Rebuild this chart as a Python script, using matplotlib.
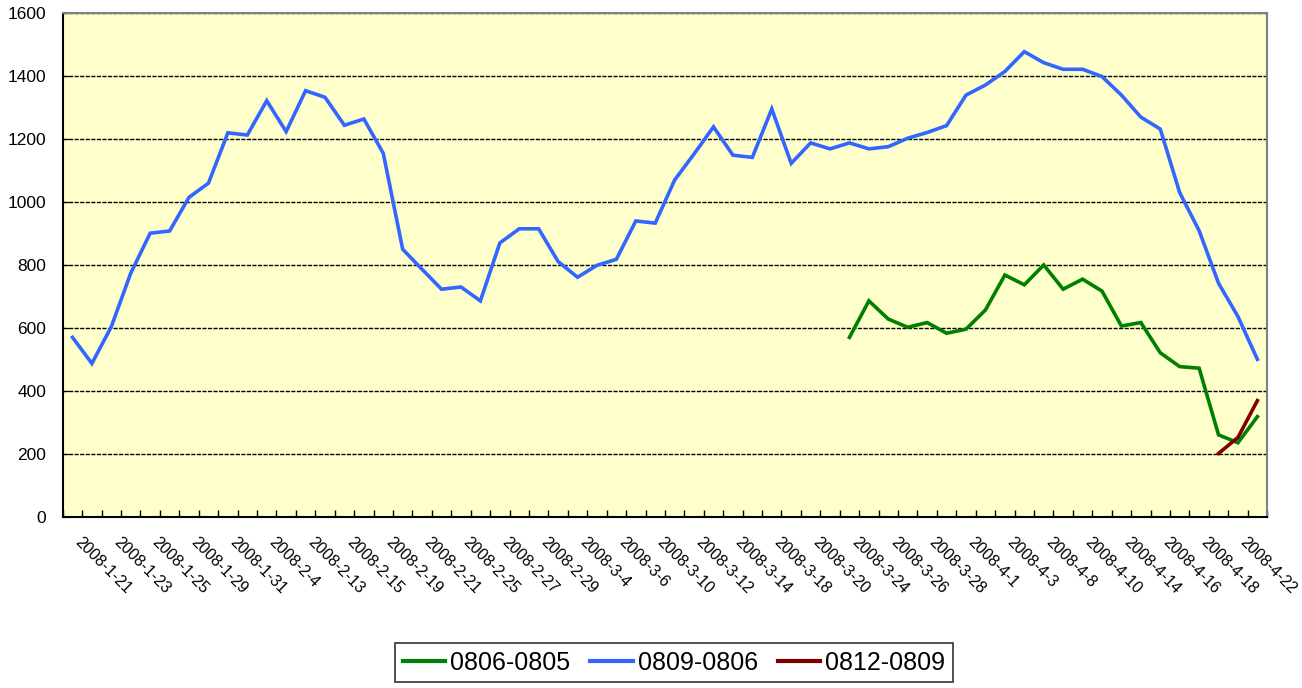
import matplotlib
matplotlib.use("Agg")

import numpy as np
import matplotlib.pyplot as plt
from matplotlib.transforms import ScaledTranslation

# trading days, 2008
dates = [
    "1-21", "1-22", "1-23", "1-24", "1-25", "1-28", "1-29", "1-30", "1-31", "2-1",
    "2-4", "2-5", "2-13", "2-14", "2-15", "2-18", "2-19", "2-20", "2-21", "2-22",
    "2-25", "2-26", "2-27", "2-28", "2-29", "3-3", "3-4", "3-5", "3-6", "3-7",
    "3-10", "3-11", "3-12", "3-13", "3-14", "3-17", "3-18", "3-19", "3-20", "3-21",
    "3-24", "3-25", "3-26", "3-27", "3-28", "3-31", "4-1", "4-2", "4-3", "4-7",
    "4-8", "4-9", "4-10", "4-11", "4-14", "4-15", "4-16", "4-17", "4-18", "4-21",
    "4-22", "4-23",
]
labels = ["2008-" + d for d in dates]

s0809_0806 = [
    570, 487, 604, 774, 901, 908, 1015, 1060, 1220, 1213,
    1322, 1224, 1354, 1333, 1244, 1264, 1155, 850, 786, 723,
    730, 686, 870, 915, 915, 811, 761, 799, 818, 940,
    933, 1070, 1153, 1239, 1149, 1142, 1296, 1123, 1188, 1169,
    1188, 1169, 1176, 1203, 1221, 1243, 1340, 1372, 1415, 1478,
    1443, 1422, 1422, 1399, 1340, 1270, 1232, 1030, 909, 742,
    636, 500,
]

# 0806-0805 starts on 3-24
s0806_0805 = [
    570, 686, 628, 602, 617, 583, 596, 657, 768, 737,
    800, 723, 755, 717, 606, 617, 521, 477, 472, 260,
    235, 318,
]

# 0812-0809 starts on 4-18
s0812_0809 = [201, 252, 369]

n = len(dates)
x = np.arange(n)

fig = plt.figure(figsize=(13.02, 6.88), dpi=100)
ax = fig.add_axes([0.0482, 0.249, 0.925, 0.7317])
ax.set_facecolor("#FFFFCC")

ax.plot(x[n - len(s0806_0805):], s0806_0805, color="#008000", lw=2.6,
        label="0806-0805", solid_joinstyle="miter")
ax.plot(x, s0809_0806, color="#3366FF", lw=2.6, label="0809-0806",
        solid_joinstyle="miter")
ax.plot(x[n - len(s0812_0809):], s0812_0809, color="#800000", lw=2.6,
        label="0812-0809", solid_joinstyle="miter")

ax.set_xlim(-0.5, n - 0.5)
ax.set_ylim(0, 1600)
ax.set_yticks(range(0, 1601, 200))
ax.yaxis.grid(True, color="black", linestyle=(0, (3, 1)), linewidth=1)
ax.set_axisbelow(True)

# category boundary ticks, labels on every other day
ax.set_xticks(x[::2])
ax.set_xticklabels(labels[::2], rotation=-45, ha="left", va="top",
                   rotation_mode="anchor", fontsize=11.5,
                   family=["Liberation Sans Narrow", "Liberation Sans"])
ax.set_xticks(np.arange(n + 1) - 0.5, minor=True)
ax.tick_params(axis="x", which="major", length=0, pad=13)
ax.tick_params(axis="x", which="minor", direction="in", length=5, width=1)
ax.tick_params(axis="y", direction="in", length=4, pad=12)
for t in ax.get_yticklabels():
    t.set_fontsize(12.5)
    t.set_family("Liberation Sans")

offset = ScaledTranslation(10 / 100, 0, fig.dpi_scale_trans)
for lbl in ax.get_xticklabels():
    lbl.set_transform(lbl.get_transform() + offset)

for side in ["left", "bottom"]:
    ax.spines[side].set_color("black")
    ax.spines[side].set_linewidth(1.5)
for side in ["top", "right"]:
    ax.spines[side].set_color("#808080")
    ax.spines[side].set_linewidth(1.5)

leg = fig.legend(loc="center", bbox_to_anchor=(0.5177, 0.037), ncol=3,
                 frameon=True, fancybox=False, edgecolor="black",
                 prop={"family": "Liberation Sans", "size": 18},
                 handlelength=1.7, handletextpad=0.2, columnspacing=0.8,
                 borderpad=0.3)
leg.get_frame().set_linewidth(1.2)
for h in leg.get_lines():
    h.set_linewidth(3)

fig.savefig("out.png", dpi=100, facecolor="white")
